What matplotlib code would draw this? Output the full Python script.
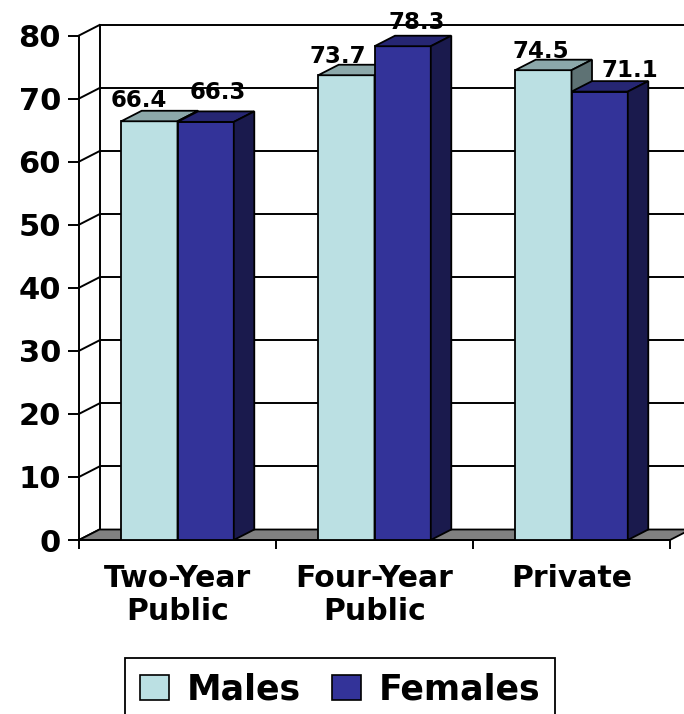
import matplotlib.pyplot as plt
from matplotlib.patches import Polygon, Patch

categories = ['Two-Year\nPublic', 'Four-Year\nPublic', 'Private']
males = [66.4, 73.7, 74.5]
females = [66.3, 78.3, 71.1]
y_ticks = [0, 10, 20, 30, 40, 50, 60, 70, 80]

plt.rcParams['font.family'] = ['DejaVu Sans']
plt.rcParams['font.weight'] = 'bold'

fig = plt.figure(figsize=(6.84, 7.14), dpi=100)
# front plane of the 3d box, in pixels: x 79..670, y 35.5..540
ax = fig.add_axes([79 / 684, 1 - 540 / 714, 591 / 684, 504.5 / 714])
ax.set_xlim(0, 3)
ax.set_ylim(0, 80)

# depth offset of the 3d effect, in data units
dx = 20.5 / 197
dy = 10.5 / (504.5 / 80)

bar_w = 1 / 3.5
edge = dict(edgecolor='black', linewidth=1.3)

# floor
ax.add_patch(Polygon([(0, 0), (3, 0), (3 + dx, dy), (dx, dy)], closed=True,
                     facecolor='#808080', zorder=1, clip_on=False, **edge))

# back wall gridlines and left wall
for v in y_ticks[1:]:
    ax.plot([dx, 3 + dx + 0.2], [v + dy, v + dy], color='black', lw=1.4,
            zorder=0.5, clip_on=False)
for v in y_ticks:
    ax.plot([0, dx], [v, v + dy], color='black', lw=1.4, zorder=0.5, clip_on=False)
ax.plot([dx, dx], [dy, 80 + dy], color='black', lw=1.4, zorder=0.5, clip_on=False)


def bar3d(x0, h, front, top, side, z):
    ax.bar([x0], [h], width=bar_w, align='edge', color=front, zorder=z, **edge)
    ax.add_patch(Polygon([(x0, h), (x0 + bar_w, h), (x0 + bar_w + dx, h + dy), (x0 + dx, h + dy)],
                         closed=True, facecolor=top, zorder=z, clip_on=False, **edge))
    ax.add_patch(Polygon([(x0 + bar_w, 0), (x0 + bar_w + dx, dy), (x0 + bar_w + dx, h + dy), (x0 + bar_w, h)],
                         closed=True, facecolor=side, zorder=z, clip_on=False, **edge))


label_offsets = [(-21, 4), (2, 12), (-19, 2), (4, 7), (-13, 2), (20, 4)]
k = 0
for i in range(len(categories)):
    c = i + 0.5
    bar3d(c - bar_w, males[i], '#BBE0E3', '#8CA8AA', '#5E7274', 3 + 2 * i)
    bar3d(c, females[i], '#333399', '#262673', '#1A1A4D', 4 + 2 * i)
    for x0, v in [(c - bar_w, males[i]), (c, females[i])]:
        ox, oy = label_offsets[k]
        k += 1
        ax.annotate(f'{v:.1f}', (x0 + bar_w / 2 + dx / 2, v + dy), xytext=(ox, oy),
                    textcoords='offset pixels', ha='center', va='baseline',
                    fontsize=16.5, fontweight='bold', zorder=20, annotation_clip=False)

for s in ['top', 'right']:
    ax.spines[s].set_visible(False)
for s in ['left', 'bottom']:
    ax.spines[s].set_linewidth(1.4)
    ax.spines[s].set_zorder(2)

ax.set_yticks(y_ticks)
ax.tick_params(axis='y', length=8, width=1.4, pad=5, labelsize=22)
ax.set_xticks([0, 1, 2, 3])
ax.set_xticklabels([])
ax.tick_params(axis='x', which='major', length=6.5, width=1.4)
ax.set_xticks([0.5, 1.5, 2.5], minor=True)
ax.set_xticklabels(categories, minor=True, fontsize=21.5, fontweight='bold')
ax.tick_params(axis='x', which='minor', length=0, pad=17)
for t in ax.get_yticklabels():
    t.set_fontweight('bold')

handles = [Patch(facecolor='#BBE0E3', edgecolor='black', lw=1.2),
           Patch(facecolor='#333399', edgecolor='black', lw=1.2)]
leg = fig.legend(handles, ['Males', 'Females'], ncol=2, loc='upper left',
                 bbox_to_anchor=(125 / 684, 1 - 658 / 714), borderaxespad=0,
                 prop={'size': 25, 'weight': 'bold'}, fancybox=False, framealpha=1,
                 handlelength=0.85, handleheight=0.7, handletextpad=0.5,
                 columnspacing=0.9, borderpad=0.42)
leg.get_frame().set_edgecolor('black')
leg.get_frame().set_linewidth(1.3)

fig.savefig('out.png', dpi=100)
